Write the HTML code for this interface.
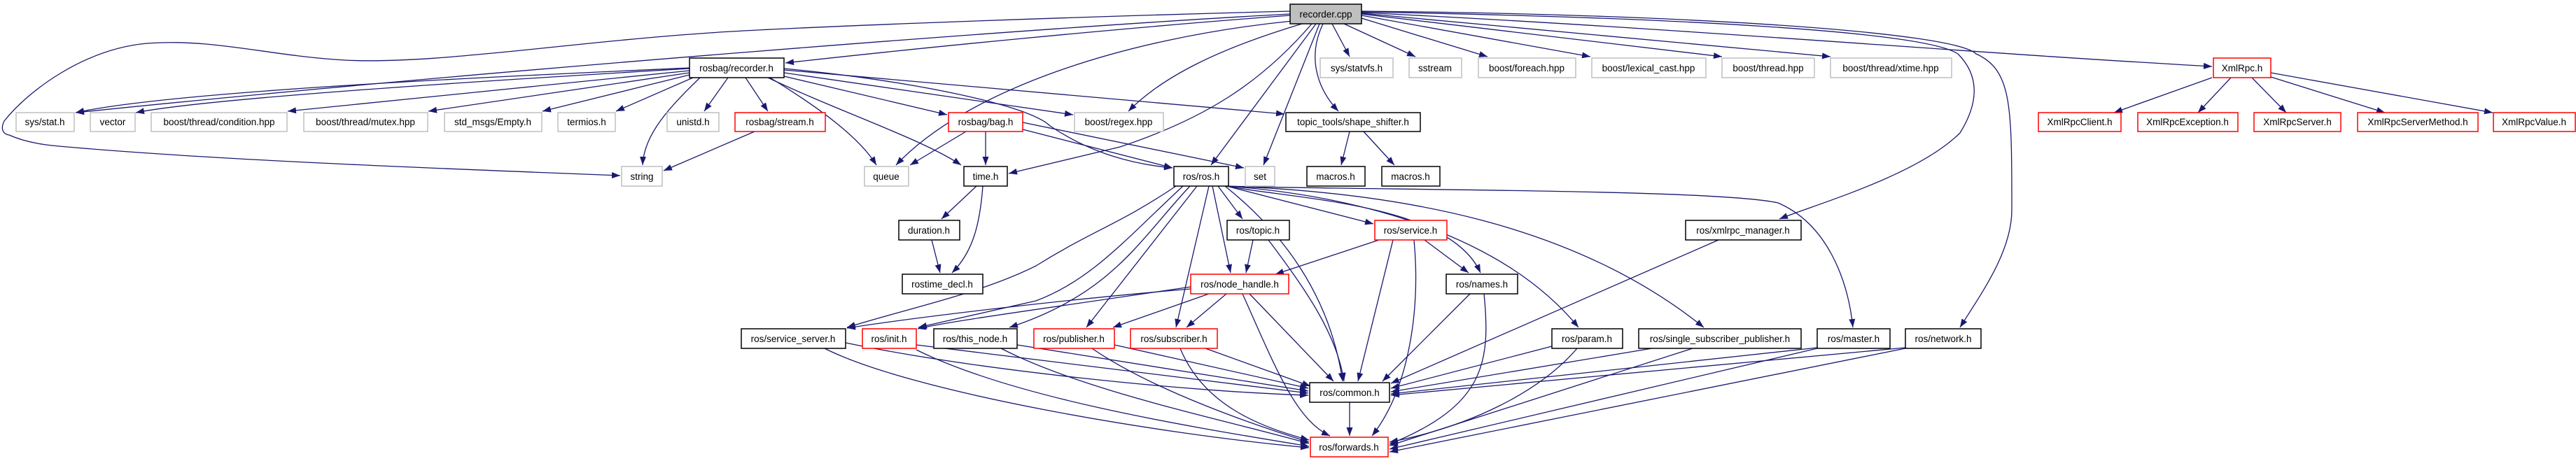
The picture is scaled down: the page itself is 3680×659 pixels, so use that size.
<!DOCTYPE html>
<html><head><meta charset="utf-8"><style>
html,body{margin:0;padding:0;background:#fff;}
svg{display:block;}
text{font-family:"Liberation Sans",sans-serif;font-size:13.5px;text-anchor:middle;fill:#000;}
.e{fill:none;stroke:#191970;stroke-width:1.3;marker-end:url(#a);}
.b{fill:#fff;stroke:#000;stroke-width:1.5;}
.r{fill:#fff;stroke:#ff0000;stroke-width:1.5;}
.g{fill:#fff;stroke:#bfbfbf;stroke-width:1.5;}
</style></head><body>
<svg width="3680" height="659" viewBox="0 0 3680 659" xmlns="http://www.w3.org/2000/svg">
<defs><marker id="a" markerUnits="userSpaceOnUse" markerWidth="13" markerHeight="10" refX="12" refY="4.5" orient="auto"><path d="M0,0 L12,4.5 L0,9 z" fill="#191970"/></marker></defs>
<g>
<path class="e" d="M1843,22 C1600,40 1300,70 1122,90"/>
<path class="e" d="M1843,20 C1500,38 700,100 108,161"/>
<path class="e" d="M1843,16 C1500,25 1100,40 1000,48 C800,62 600,95 478,85 C380,78 300,55 210,62 C120,70 40,130 6,173 C0,185 5,192 13,193 C40,205 70,208 96,210 C300,228 600,240 886,251"/>
<path class="e" d="M1846,30 C1600,55 1380,130 1280,236"/>
<path class="e" d="M1874,34 C1800,120 1720,170 1600,210 L1441,248"/>
<path class="e" d="M1860,34 C1740,70 1660,110 1612,159"/>
<path class="e" d="M1880,34 L1730,236"/>
<path class="e" d="M1885,34 L1805,236"/>
<path class="e" d="M1890,34 C1868,80 1880,125 1912,159"/>
<path class="e" d="M1903,34 L1928,81"/>
<path class="e" d="M1920,34 L2022,81"/>
<path class="e" d="M1945,26 L2125,81"/>
<path class="e" d="M1945,22 L2272,81"/>
<path class="e" d="M1945,20 L2460,81"/>
<path class="e" d="M1945,19 L2615,81"/>
<path class="e" d="M1945,18 C2400,40 2800,75 3160,95"/>
<path class="e" d="M1945,17 C2400,25 2750,45 2797,77 C2830,110 2825,150 2800,190 C2740,250 2600,290 2542,313"/>
<path class="e" d="M1945,16 C2400,20 2790,45 2823,77 C2874,100 2874,150 2874,300 C2874,360 2830,420 2800,468"/>

<path class="e" d="M985,97 C700,110 250,130 108,161"/>
<path class="e" d="M985,98 C700,115 300,140 194,161"/>
<path class="e" d="M985,101 L411,159"/>
<path class="e" d="M985,104 L612,159"/>
<path class="e" d="M985,107 L775,159"/>
<path class="e" d="M990,111 L880,159"/>
<path class="e" d="M1040,111 L1006,159"/>
<path class="e" d="M1065,111 L1097,159"/>
<path class="e" d="M1000,111 C960,150 920,190 918,236"/>
<path class="e" d="M1100,111 C1180,160 1230,200 1252,236"/>
<path class="e" d="M1097,111 C1200,160 1320,200 1373,236"/>
<path class="e" d="M1120,109 L1353,164"/>
<path class="e" d="M1120,104 L1533,164"/>
<path class="e" d="M1120,98 C1300,115 1470,150 1500,180 C1560,220 1620,235 1675,240"/>
<path class="e" d="M1120,100 L1835,163"/>
<path class="e" d="M1078,188 L948,244"/>
<path class="e" d="M1380,188 L1300,236"/>
<path class="e" d="M1408,188 L1408,236"/>
<path class="e" d="M1461,185 L1675,240"/>
<path class="e" d="M1461,175 L1777,240"/>
<path class="e" d="M1395,266 L1345,313"/>
<path class="e" d="M1404,266 C1400,320 1390,360 1360,390"/>
<path class="e" d="M1331,343 L1343,390"/>
<path class="e" d="M1928,188 L1916,236"/>
<path class="e" d="M1948,188 L1992,236"/>

<path class="e" d="M1680,266 C1600,320 1560,330 1480,380 C1400,420 1300,440 1210,468"/>
<path class="e" d="M1690,266 C1610,340 1560,400 1480,430 L1312,468"/>
<path class="e" d="M1700,266 C1630,340 1590,420 1442,468"/>
<path class="e" d="M1710,266 L1552,468"/>
<path class="e" d="M1727,266 L1680,468"/>
<path class="e" d="M1732,266 L1758,390"/>
<path class="e" d="M1740,266 L1775,313"/>
<path class="e" d="M1750,266 C1830,330 1900,420 1918,545"/>
<path class="e" d="M1752,266 L1962,320"/>
<path class="e" d="M1752,266 C1850,285 2070,290 2115,390"/>
<path class="e" d="M1752,266 C1950,280 2150,340 2255,468"/>
<path class="e" d="M1752,266 C2000,275 2250,320 2434,468"/>
<path class="e" d="M1752,266 C1950,272 2450,270 2540,290 C2610,320 2640,400 2647,468"/>

<path class="e" d="M1790,343 L1780,390"/>
<path class="e" d="M1812,343 C1870,420 1910,480 1920,545"/>
<path class="e" d="M1970,343 L1822,392"/>
<path class="e" d="M2035,343 L2098,390"/>
<path class="e" d="M1990,343 L1940,545"/>
<path class="e" d="M2020,343 C2030,450 2010,560 1960,623"/>
<path class="e" d="M1701,413 C1500,430 1300,455 1210,469"/>
<path class="e" d="M1701,410 C1500,440 1350,460 1311,470"/>
<path class="e" d="M1727,420 L1590,468"/>
<path class="e" d="M1752,420 L1695,468"/>
<path class="e" d="M1785,420 L1905,545"/>
<path class="e" d="M1775,420 C1820,520 1850,600 1900,623"/>
<path class="e" d="M2100,420 L1975,545"/>
<path class="e" d="M2120,420 C2130,520 2120,580 1985,635"/>
<path class="e" d="M1208,490 C1400,530 1700,560 1869,565"/>
<path class="e" d="M1178,498 C1300,560 1650,620 1870,640"/>
<path class="e" d="M1309,493 L1869,562"/>
<path class="e" d="M1309,500 C1450,570 1700,610 1870,638"/>
<path class="e" d="M1453,493 L1869,559"/>
<path class="e" d="M1430,498 C1550,560 1750,600 1870,634"/>
<path class="e" d="M1592,493 L1869,555"/>
<path class="e" d="M1560,498 C1650,560 1800,610 1870,632"/>
<path class="e" d="M1722,498 L1872,552"/>
<path class="e" d="M1686,498 C1720,580 1800,610 1870,629"/>
<path class="e" d="M1928,575 L1928,623"/>
<path class="e" d="M2217,495 L1987,555"/>
<path class="e" d="M2253,498 C2200,560 2100,610 1985,632"/>
<path class="e" d="M2360,498 L1987,560"/>
<path class="e" d="M2418,498 L1985,637"/>
<path class="e" d="M2596,497 L1987,563"/>
<path class="e" d="M2596,498 L1985,642"/>
<path class="e" d="M2722,497 L1987,565"/>
<path class="e" d="M2722,498 L1985,646"/>
<path class="e" d="M2455,343 L1987,548"/>

<path class="e" d="M3160,111 L3020,161"/>
<path class="e" d="M3187,111 L3140,161"/>
<path class="e" d="M3217,111 L3266,161"/>
<path class="e" d="M3244,110 L3407,161"/>
<path class="e" d="M3244,104 L3561,161"/>
</g>
<g>
<rect x="1843" y="6" width="102" height="28" fill="#bfbfbf" stroke="#000" stroke-width="1.5"/><text x="1894" y="25">recorder.cpp</text>

<rect class="b" x="985" y="83" width="135" height="28"/><text x="1052" y="102">rosbag/recorder.h</text>
<rect class="g" x="1886" y="83" width="104" height="28"/><text x="1938" y="102">sys/statvfs.h</text>
<rect class="g" x="2013" y="83" width="75" height="28"/><text x="2050" y="102">sstream</text>
<rect class="g" x="2112" y="83" width="139" height="28"/><text x="2181" y="102">boost/foreach.hpp</text>
<rect class="g" x="2274" y="83" width="163" height="28"/><text x="2355" y="102">boost/lexical_cast.hpp</text>
<rect class="g" x="2460" y="83" width="132" height="28"/><text x="2526" y="102">boost/thread.hpp</text>
<rect class="g" x="2615" y="83" width="173" height="28"/><text x="2701" y="102">boost/thread/xtime.hpp</text>
<rect class="r" x="3162" y="83" width="82" height="28"/><text x="3203" y="102">XmlRpc.h</text>

<rect class="g" x="23" y="161" width="83" height="27"/><text x="64" y="179">sys/stat.h</text>
<rect class="g" x="129" y="161" width="64" height="27"/><text x="161" y="179">vector</text>
<rect class="g" x="216" y="161" width="194" height="27"/><text x="313" y="179">boost/thread/condition.hpp</text>
<rect class="g" x="434" y="161" width="177" height="27"/><text x="522" y="179">boost/thread/mutex.hpp</text>
<rect class="g" x="635" y="161" width="139" height="27"/><text x="704" y="179">std_msgs/Empty.h</text>
<rect class="g" x="797" y="161" width="82" height="27"/><text x="838" y="179">termios.h</text>
<rect class="g" x="953" y="161" width="74" height="27"/><text x="990" y="179">unistd.h</text>
<rect class="r" x="1050" y="161" width="129" height="27"/><text x="1114" y="179">rosbag/stream.h</text>
<rect class="r" x="1355" y="161" width="106" height="27"/><text x="1408" y="179">rosbag/bag.h</text>
<rect class="g" x="1535" y="161" width="127" height="27"/><text x="1598" y="179">boost/regex.hpp</text>
<rect class="b" x="1837" y="161" width="192" height="27"/><text x="1933" y="179">topic_tools/shape_shifter.h</text>
<rect class="r" x="2912" y="161" width="118" height="27"/><text x="2971" y="179">XmlRpcClient.h</text>
<rect class="r" x="3054" y="161" width="143" height="27"/><text x="3125" y="179">XmlRpcException.h</text>
<rect class="r" x="3220" y="161" width="124" height="27"/><text x="3282" y="179">XmlRpcServer.h</text>
<rect class="r" x="3368" y="161" width="172" height="27"/><text x="3454" y="179">XmlRpcServerMethod.h</text>
<rect class="r" x="3562" y="161" width="117" height="27"/><text x="3620" y="179">XmlRpcValue.h</text>

<rect class="g" x="888" y="238" width="58" height="28"/><text x="917" y="257">string</text>
<rect class="g" x="1235" y="238" width="63" height="28"/><text x="1266" y="257">queue</text>
<rect class="b" x="1377" y="238" width="62" height="28"/><text x="1408" y="257">time.h</text>
<rect class="b" x="1677" y="238" width="78" height="28"/><text x="1716" y="257">ros/ros.h</text>
<rect class="g" x="1779" y="238" width="42" height="28"/><text x="1800" y="257">set</text>
<rect class="b" x="1867" y="238" width="83" height="28"/><text x="1908" y="257">macros.h</text>
<rect class="b" x="1974" y="238" width="83" height="28"/><text x="2015" y="257">macros.h</text>

<rect class="b" x="1284" y="315" width="87" height="28"/><text x="1327" y="334">duration.h</text>
<rect class="b" x="1753" y="315" width="89" height="28"/><text x="1797" y="334">ros/topic.h</text>
<rect class="r" x="1964" y="315" width="103" height="28"/><text x="2015" y="334">ros/service.h</text>
<rect class="b" x="2408" y="315" width="165" height="28"/><text x="2490" y="334">ros/xmlrpc_manager.h</text>

<rect class="b" x="1289" y="392" width="115" height="28"/><text x="1346" y="411">rostime_decl.h</text>
<rect class="r" x="1701" y="392" width="140" height="28"/><text x="1771" y="411">ros/node_handle.h</text>
<rect class="b" x="2066" y="392" width="102" height="28"/><text x="2117" y="411">ros/names.h</text>

<rect class="b" x="1059" y="470" width="149" height="28"/><text x="1133" y="489">ros/service_server.h</text>
<rect class="r" x="1232" y="470" width="77" height="28"/><text x="1270" y="489">ros/init.h</text>
<rect class="b" x="1334" y="470" width="119" height="28"/><text x="1393" y="489">ros/this_node.h</text>
<rect class="r" x="1477" y="470" width="115" height="28"/><text x="1534" y="489">ros/publisher.h</text>
<rect class="r" x="1615" y="470" width="124" height="28"/><text x="1677" y="489">ros/subscriber.h</text>
<rect class="b" x="2217" y="470" width="101" height="28"/><text x="2267" y="489">ros/param.h</text>
<rect class="b" x="2341" y="470" width="232" height="28"/><text x="2457" y="489">ros/single_subscriber_publisher.h</text>
<rect class="b" x="2596" y="470" width="104" height="28"/><text x="2648" y="489">ros/master.h</text>
<rect class="b" x="2722" y="470" width="108" height="28"/><text x="2776" y="489">ros/network.h</text>

<rect class="b" x="1871" y="547" width="114" height="28"/><text x="1928" y="566">ros/common.h</text>
<rect class="r" x="1872" y="625" width="111" height="28"/><text x="1927" y="644">ros/forwards.h</text>
</g>
</svg>
</body></html>
